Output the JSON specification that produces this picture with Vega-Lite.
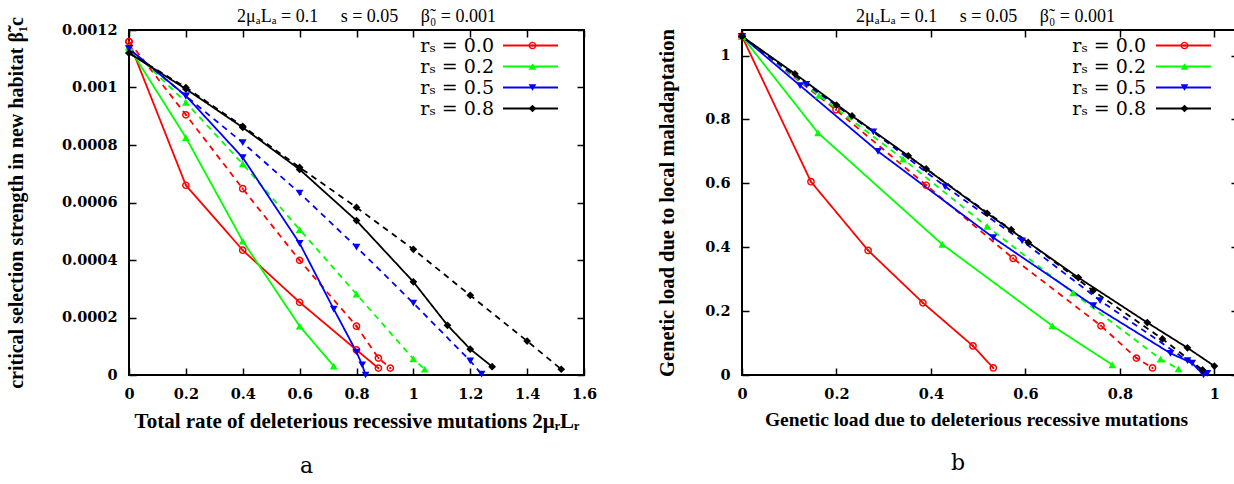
{
  "$schema": "https://vega.github.io/schema/vega-lite/v6.json",
  "autosize": {"type": "none"},
  "padding": {"left": 129, "top": 30, "right": 1105, "bottom": 454},
  "background": "white",
  "bounds": "flush",
  "spacing": 158,
  "config": {
    "view": {"stroke": "black", "strokeWidth": 2},
    "axis": {
      "domain": false, "grid": false, "tickColor": "black", "tickWidth": 1.5, "tickSize": -7, "labelFlush": false,
      "labelFont": "DejaVu Serif", "labelFontWeight": "bold", "labelFontSize": 14.5, "labelColor": "black",
      "labelPadding": 19,
      "titleFont": "Liberation Serif", "titleFontWeight": "bold", "titleFontSize": 19, "titleColor": "black"
    },
    "legend": {
      "orient": "none", "title": null, "padding": 0, "rowPadding": 1,
      "labelFont": "DejaVu Serif", "labelFontSize": 19, "labelColor": "black", "labelAlign": "right", "labelOffset": -48,
      "labelLimit": 300, "symbolStrokeWidth": 1.8, "symbolOpacity": 1
    }
  },
  "resolve": {
    "scale": {"x": "independent", "y": "independent", "color": "independent", "stroke": "independent", "shape": "independent", "strokeDash": "independent"},
    "legend": {"color": "independent", "shape": "independent", "stroke": "independent"}
  },
  "datasets": {
    "a": [
      {"s": "rₛ = 0.0", "k": "solid", "x": 0, "y": 0.00116},
      {"s": "rₛ = 0.0", "k": "solid", "x": 0.2, "y": 0.00066},
      {"s": "rₛ = 0.0", "k": "solid", "x": 0.4, "y": 0.000434},
      {"s": "rₛ = 0.0", "k": "solid", "x": 0.6, "y": 0.000253},
      {"s": "rₛ = 0.0", "k": "solid", "x": 0.8, "y": 0.000087},
      {"s": "rₛ = 0.0", "k": "solid", "x": 0.877, "y": 0.000024},
      {"s": "rₛ = 0.0", "k": "dashed", "x": 0, "y": 0.00116},
      {"s": "rₛ = 0.0", "k": "dashed", "x": 0.2, "y": 0.000905},
      {"s": "rₛ = 0.0", "k": "dashed", "x": 0.4, "y": 0.000648},
      {"s": "rₛ = 0.0", "k": "dashed", "x": 0.6, "y": 0.000399},
      {"s": "rₛ = 0.0", "k": "dashed", "x": 0.8, "y": 0.00017},
      {"s": "rₛ = 0.0", "k": "dashed", "x": 0.877, "y": 0.000059},
      {"s": "rₛ = 0.0", "k": "dashed", "x": 0.919, "y": 0.000024},
      {"s": "rₛ = 0.2", "k": "solid", "x": 0, "y": 0.00114},
      {"s": "rₛ = 0.2", "k": "solid", "x": 0.2, "y": 0.000826},
      {"s": "rₛ = 0.2", "k": "solid", "x": 0.4, "y": 0.000466},
      {"s": "rₛ = 0.2", "k": "solid", "x": 0.6, "y": 0.00017},
      {"s": "rₛ = 0.2", "k": "solid", "x": 0.72, "y": 0.000031},
      {"s": "rₛ = 0.2", "k": "dashed", "x": 0, "y": 0.00114},
      {"s": "rₛ = 0.2", "k": "dashed", "x": 0.2, "y": 0.000948},
      {"s": "rₛ = 0.2", "k": "dashed", "x": 0.4, "y": 0.000734},
      {"s": "rₛ = 0.2", "k": "dashed", "x": 0.6, "y": 0.000506},
      {"s": "rₛ = 0.2", "k": "dashed", "x": 0.8, "y": 0.000281},
      {"s": "rₛ = 0.2", "k": "dashed", "x": 1.0, "y": 0.000056},
      {"s": "rₛ = 0.2", "k": "dashed", "x": 1.04, "y": 0.00002},
      {"s": "rₛ = 0.5", "k": "solid", "x": 0, "y": 0.001135},
      {"s": "rₛ = 0.5", "k": "solid", "x": 0.2, "y": 0.000971},
      {"s": "rₛ = 0.5", "k": "solid", "x": 0.4, "y": 0.000756},
      {"s": "rₛ = 0.5", "k": "solid", "x": 0.6, "y": 0.000458},
      {"s": "rₛ = 0.5", "k": "solid", "x": 0.72, "y": 0.000229},
      {"s": "rₛ = 0.5", "k": "solid", "x": 0.8, "y": 0.00008},
      {"s": "rₛ = 0.5", "k": "solid", "x": 0.82, "y": 0.000035},
      {"s": "rₛ = 0.5", "k": "solid", "x": 0.832, "y": 0},
      {"s": "rₛ = 0.5", "k": "dashed", "x": 0, "y": 0.001135},
      {"s": "rₛ = 0.5", "k": "dashed", "x": 0.2, "y": 0.00097},
      {"s": "rₛ = 0.5", "k": "dashed", "x": 0.4, "y": 0.000808},
      {"s": "rₛ = 0.5", "k": "dashed", "x": 0.6, "y": 0.000633},
      {"s": "rₛ = 0.5", "k": "dashed", "x": 0.8, "y": 0.000445},
      {"s": "rₛ = 0.5", "k": "dashed", "x": 1.0, "y": 0.00025},
      {"s": "rₛ = 0.5", "k": "dashed", "x": 1.2, "y": 0.000049},
      {"s": "rₛ = 0.5", "k": "dashed", "x": 1.24, "y": 0.000003},
      {"s": "rₛ = 0.8", "k": "solid", "x": 0, "y": 0.00112},
      {"s": "rₛ = 0.8", "k": "solid", "x": 0.2, "y": 0.000995},
      {"s": "rₛ = 0.8", "k": "solid", "x": 0.4, "y": 0.000861},
      {"s": "rₛ = 0.8", "k": "solid", "x": 0.6, "y": 0.000715},
      {"s": "rₛ = 0.8", "k": "solid", "x": 0.8, "y": 0.000537},
      {"s": "rₛ = 0.8", "k": "solid", "x": 1.0, "y": 0.000324},
      {"s": "rₛ = 0.8", "k": "solid", "x": 1.12, "y": 0.000173},
      {"s": "rₛ = 0.8", "k": "solid", "x": 1.2, "y": 0.00009},
      {"s": "rₛ = 0.8", "k": "solid", "x": 1.277, "y": 0.000029},
      {"s": "rₛ = 0.8", "k": "dashed", "x": 0, "y": 0.00112},
      {"s": "rₛ = 0.8", "k": "dashed", "x": 0.2, "y": 0.001},
      {"s": "rₛ = 0.8", "k": "dashed", "x": 0.4, "y": 0.000865},
      {"s": "rₛ = 0.8", "k": "dashed", "x": 0.6, "y": 0.000722},
      {"s": "rₛ = 0.8", "k": "dashed", "x": 0.8, "y": 0.000583},
      {"s": "rₛ = 0.8", "k": "dashed", "x": 1.0, "y": 0.000437},
      {"s": "rₛ = 0.8", "k": "dashed", "x": 1.2, "y": 0.000277},
      {"s": "rₛ = 0.8", "k": "dashed", "x": 1.4, "y": 0.000118},
      {"s": "rₛ = 0.8", "k": "dashed", "x": 1.52, "y": 0.00002}
    ],
    "b": [
      {"s": "rₛ = 0.0", "k": "solid", "x": 0, "y": 1.06},
      {"s": "rₛ = 0.0", "k": "solid", "x": 0.146, "y": 0.605},
      {"s": "rₛ = 0.0", "k": "solid", "x": 0.267, "y": 0.39},
      {"s": "rₛ = 0.0", "k": "solid", "x": 0.383, "y": 0.226},
      {"s": "rₛ = 0.0", "k": "solid", "x": 0.489, "y": 0.091},
      {"s": "rₛ = 0.0", "k": "solid", "x": 0.532, "y": 0.022},
      {"s": "rₛ = 0.0", "k": "dashed", "x": 0, "y": 1.06},
      {"s": "rₛ = 0.0", "k": "dashed", "x": 0.199, "y": 0.83},
      {"s": "rₛ = 0.0", "k": "dashed", "x": 0.39, "y": 0.594},
      {"s": "rₛ = 0.0", "k": "dashed", "x": 0.574, "y": 0.365},
      {"s": "rₛ = 0.0", "k": "dashed", "x": 0.76, "y": 0.154},
      {"s": "rₛ = 0.0", "k": "dashed", "x": 0.835, "y": 0.053},
      {"s": "rₛ = 0.0", "k": "dashed", "x": 0.869, "y": 0.022},
      {"s": "rₛ = 0.2", "k": "solid", "x": 0, "y": 1.06},
      {"s": "rₛ = 0.2", "k": "solid", "x": 0.161, "y": 0.758},
      {"s": "rₛ = 0.2", "k": "solid", "x": 0.424, "y": 0.409},
      {"s": "rₛ = 0.2", "k": "solid", "x": 0.657, "y": 0.154},
      {"s": "rₛ = 0.2", "k": "solid", "x": 0.784, "y": 0.032},
      {"s": "rₛ = 0.2", "k": "dashed", "x": 0, "y": 1.06},
      {"s": "rₛ = 0.2", "k": "dashed", "x": 0.163, "y": 0.875},
      {"s": "rₛ = 0.2", "k": "dashed", "x": 0.341, "y": 0.676},
      {"s": "rₛ = 0.2", "k": "dashed", "x": 0.519, "y": 0.465},
      {"s": "rₛ = 0.2", "k": "dashed", "x": 0.701, "y": 0.257},
      {"s": "rₛ = 0.2", "k": "dashed", "x": 0.886, "y": 0.05},
      {"s": "rₛ = 0.2", "k": "dashed", "x": 0.924, "y": 0.019},
      {"s": "rₛ = 0.5", "k": "solid", "x": 0, "y": 1.06},
      {"s": "rₛ = 0.5", "k": "solid", "x": 0.123, "y": 0.906},
      {"s": "rₛ = 0.5", "k": "solid", "x": 0.288, "y": 0.70},
      {"s": "rₛ = 0.5", "k": "solid", "x": 0.532, "y": 0.43},
      {"s": "rₛ = 0.5", "k": "solid", "x": 0.744, "y": 0.217},
      {"s": "rₛ = 0.5", "k": "solid", "x": 0.907, "y": 0.068},
      {"s": "rₛ = 0.5", "k": "solid", "x": 0.953, "y": 0.037},
      {"s": "rₛ = 0.5", "k": "solid", "x": 0.977, "y": 0},
      {"s": "rₛ = 0.5", "k": "dashed", "x": 0, "y": 1.06},
      {"s": "rₛ = 0.5", "k": "dashed", "x": 0.136, "y": 0.91},
      {"s": "rₛ = 0.5", "k": "dashed", "x": 0.278, "y": 0.761},
      {"s": "rₛ = 0.5", "k": "dashed", "x": 0.43, "y": 0.59},
      {"s": "rₛ = 0.5", "k": "dashed", "x": 0.593, "y": 0.42},
      {"s": "rₛ = 0.5", "k": "dashed", "x": 0.758, "y": 0.233},
      {"s": "rₛ = 0.5", "k": "dashed", "x": 0.943, "y": 0.045},
      {"s": "rₛ = 0.5", "k": "dashed", "x": 0.985, "y": 0.005},
      {"s": "rₛ = 0.8", "k": "solid", "x": 0, "y": 1.06},
      {"s": "rₛ = 0.8", "k": "solid", "x": 0.112, "y": 0.943},
      {"s": "rₛ = 0.8", "k": "solid", "x": 0.233, "y": 0.811},
      {"s": "rₛ = 0.8", "k": "solid", "x": 0.352, "y": 0.686},
      {"s": "rₛ = 0.8", "k": "solid", "x": 0.519, "y": 0.506},
      {"s": "rₛ = 0.8", "k": "solid", "x": 0.606, "y": 0.415},
      {"s": "rₛ = 0.8", "k": "solid", "x": 0.712, "y": 0.305},
      {"s": "rₛ = 0.8", "k": "solid", "x": 0.858, "y": 0.164},
      {"s": "rₛ = 0.8", "k": "solid", "x": 0.943, "y": 0.085},
      {"s": "rₛ = 0.8", "k": "solid", "x": 1.0, "y": 0.028},
      {"s": "rₛ = 0.8", "k": "dashed", "x": 0, "y": 1.06},
      {"s": "rₛ = 0.8", "k": "dashed", "x": 0.2, "y": 0.845},
      {"s": "rₛ = 0.8", "k": "dashed", "x": 0.39, "y": 0.645},
      {"s": "rₛ = 0.8", "k": "dashed", "x": 0.57, "y": 0.455},
      {"s": "rₛ = 0.8", "k": "dashed", "x": 0.743, "y": 0.264},
      {"s": "rₛ = 0.8", "k": "dashed", "x": 0.89, "y": 0.113},
      {"s": "rₛ = 0.8", "k": "dashed", "x": 0.975, "y": 0.016}
    ]
  },
  "hconcat": [
    {
      "width": 455, "height": 345,
      "data": {"name": "a"},
      "title": {"text": "a", "orient": "bottom", "frame": "group", "dx": -50, "offset": 24, "font": "DejaVu Serif", "fontSize": 22, "fontWeight": "normal", "color": "black"},
      "resolve": {"axis": {"x": "independent", "y": "independent"}},
      "layer": [
        {
          "mark": {"type": "line", "strokeWidth": 1.8},
          "encoding": {
            "x": {"field": "x", "type": "quantitative", "scale": {"domain": [0, 1.6], "nice": false},
              "axis": {"orient": "bottom", "values": [0, 0.2, 0.4, 0.6, 0.8, 1, 1.2, 1.4, 1.6], "format": "~g", "titlePadding": 10, "titleFontSize": 21,
                "title": "Total rate of deleterious recessive mutations 2μᵣLᵣ"}},
            "y": {"field": "y", "type": "quantitative", "scale": {"domain": [0, 0.0012], "nice": false},
              "axis": {"orient": "left", "values": [0, 0.0002, 0.0004, 0.0006, 0.0008, 0.001, 0.0012], "format": ".4~f", "titlePadding": 35, "titleFontSize": 20,
                "title": "critical selection strength in new habitat β̃₁c"}},
            "stroke": {"field": "s", "type": "nominal",
              "scale": {"domain": ["rₛ = 0.8", "rₛ = 0.5", "rₛ = 0.2", "rₛ = 0.0"], "range": ["#000000", "#0000ff", "#00ff00", "#ff0000"]},
              "legend": {"legendX": 392, "legendY": 6, "symbolType": "M-5.5,0L5.5,0", "symbolSize": 100, "labelExpr": "' '",
                "values": ["rₛ = 0.0", "rₛ = 0.2", "rₛ = 0.5", "rₛ = 0.8"]}},
            "strokeDash": {"field": "k", "type": "nominal", "scale": {"domain": ["solid", "dashed"], "range": [[1, 0], [6, 5]]}, "legend": null}
          }
        },
        {
          "mark": {"type": "point", "filled": true, "size": 60, "opacity": 1},
          "encoding": {
            "x": {"field": "x", "type": "quantitative", "scale": {"domain": [0, 1.6], "nice": false},
              "axis": {"orient": "top", "values": [0, 0.2, 0.4, 0.6, 0.8, 1, 1.2, 1.4, 1.6], "labels": false, "titlePadding": 4, "titleX": 237,
                "titleFont": "Liberation Serif", "titleFontWeight": "normal", "titleFontSize": 18,
                "title": "2μₐLₐ = 0.1\u2003 s = 0.05\u2003 β̃₀ = 0.001"}},
            "y": {"field": "y", "type": "quantitative", "scale": {"domain": [0, 0.0012], "nice": false},
              "axis": {"orient": "right", "values": [0, 0.0002, 0.0004, 0.0006, 0.0008, 0.001, 0.0012], "labels": false, "title": null}},
            "shape": {"field": "s", "type": "nominal", "scale": {"domain": ["rₛ = 0.0", "rₛ = 0.2", "rₛ = 0.5", "rₛ = 0.8"],
              "range": ["M1,0A1,1,0,1,1,-1,0A1,1,0,1,1,1,0ZM0.62,0A0.62,0.62,0,1,0,-0.62,0A0.62,0.62,0,1,0,0.62,0ZM0.28,0A0.28,0.28,0,1,1,-0.28,0A0.28,0.28,0,1,1,0.28,0Z", "triangle-up", "triangle-down", "diamond"]},
              "legend": {"legendX": 394, "legendY": 6, "symbolSize": 60}},
            "color": {"field": "s", "type": "nominal", "scale": {"domain": ["rₛ = 0.0", "rₛ = 0.2", "rₛ = 0.5", "rₛ = 0.8"], "range": ["#ff0000", "#00ff00", "#0000ff", "#000000"]},
              "legend": {"legendX": 394, "legendY": 6, "symbolSize": 60}}
          }
        }
      ]
    },
    {
      "width": 496, "height": 345,
      "data": {"name": "b"},
      "title": {"text": "b", "orient": "bottom", "frame": "group", "dx": -32, "offset": 24, "font": "DejaVu Serif", "fontSize": 22, "fontWeight": "normal", "color": "black"},
      "resolve": {"axis": {"x": "independent", "y": "independent"}},
      "layer": [
        {
          "mark": {"type": "line", "strokeWidth": 1.8},
          "encoding": {
            "x": {"field": "x", "type": "quantitative", "scale": {"domain": [0, 1.05], "nice": false},
              "axis": {"orient": "bottom", "values": [0, 0.2, 0.4, 0.6, 0.8, 1], "format": "~g", "titlePadding": 10, "titleX": 234, "titleFontSize": 19.5,
                "title": "Genetic load due to deleterious recessive mutations"}},
            "y": {"field": "y", "type": "quantitative", "scale": {"domain": [0, 1.08], "nice": false},
              "axis": {"orient": "left", "values": [0, 0.2, 0.4, 0.6, 0.8, 1], "format": "~g", "titlePadding": 27, "titleFontSize": 20.5,
                "title": "Genetic load due to local maladaptation"}},
            "stroke": {"field": "s", "type": "nominal",
              "scale": {"domain": ["rₛ = 0.8", "rₛ = 0.5", "rₛ = 0.2", "rₛ = 0.0"], "range": ["#000000", "#0000ff", "#00ff00", "#ff0000"]},
              "legend": {"legendX": 432, "legendY": 6, "symbolType": "M-5.5,0L5.5,0", "symbolSize": 100, "labelExpr": "' '",
                "values": ["rₛ = 0.0", "rₛ = 0.2", "rₛ = 0.5", "rₛ = 0.8"]}},
            "strokeDash": {"field": "k", "type": "nominal", "scale": {"domain": ["solid", "dashed"], "range": [[1, 0], [6, 5]]}, "legend": null}
          }
        },
        {
          "mark": {"type": "point", "filled": true, "size": 60, "opacity": 1},
          "encoding": {
            "x": {"field": "x", "type": "quantitative", "scale": {"domain": [0, 1.05], "nice": false},
              "axis": {"orient": "top", "values": [0, 0.2, 0.4, 0.6, 0.8, 1], "labels": false, "titlePadding": 4, "titleX": 243,
                "titleFont": "Liberation Serif", "titleFontWeight": "normal", "titleFontSize": 18,
                "title": "2μₐLₐ = 0.1\u2003 s = 0.05\u2003 β̃₀ = 0.001"}},
            "y": {"field": "y", "type": "quantitative", "scale": {"domain": [0, 1.08], "nice": false},
              "axis": {"orient": "right", "values": [0, 0.2, 0.4, 0.6, 0.8, 1], "labels": false, "title": null}},
            "shape": {"field": "s", "type": "nominal", "scale": {"domain": ["rₛ = 0.0", "rₛ = 0.2", "rₛ = 0.5", "rₛ = 0.8"],
              "range": ["M1,0A1,1,0,1,1,-1,0A1,1,0,1,1,1,0ZM0.62,0A0.62,0.62,0,1,0,-0.62,0A0.62,0.62,0,1,0,0.62,0ZM0.28,0A0.28,0.28,0,1,1,-0.28,0A0.28,0.28,0,1,1,0.28,0Z", "triangle-up", "triangle-down", "diamond"]},
              "legend": {"legendX": 433, "legendY": 6, "symbolSize": 60}},
            "color": {"field": "s", "type": "nominal", "scale": {"domain": ["rₛ = 0.0", "rₛ = 0.2", "rₛ = 0.5", "rₛ = 0.8"], "range": ["#ff0000", "#00ff00", "#0000ff", "#000000"]},
              "legend": {"legendX": 433, "legendY": 6, "symbolSize": 60}}
          }
        }
      ]
    }
  ]
}
